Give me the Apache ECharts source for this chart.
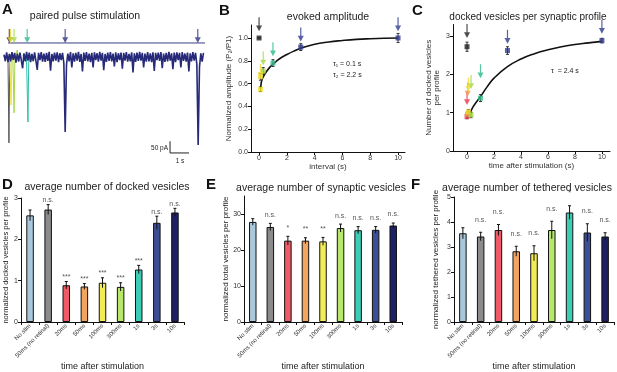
<!DOCTYPE html>
<html>
<head>
<meta charset="utf-8">
<script src="https://cdn.jsdelivr.net/npm/echarts@6.0.0/dist/echarts.min.js"></script>
<style>
  html, body { margin: 0; padding: 0; background: #fff; }
  #main { width: 617px; height: 372px; }
</style>
</head>
<body>
<div id="main"></div>
<script>
// ---------- data ----------
// A: paired pulse recordings (pA), navy trace sampled every 0.07 s
var traceDt = 0.07;
var navyTrace = [
  10, -18, 20, -22, 13, -19, 21, -12, 18, -24,
  14, -20, 19, -13, -48, 16, -19, 22, -15, 19,
  -22, 13, -18, 20, -16, -55, 18, -13, 21, -20,
  15, -21, 18, -16, 22, -58, 13, -19, 19, -15,
  20, -22, 16, -13, 18, -26, -320, -32, 15, -19,
  21, -45, 16, -20, 18, -15, 22, -21, 13, -62,
  19, -16, 21, -19, 15, -22, 18, -44, 20, -13,
  16, -20, 22, -15, 18, -56, 13, -21, 19, -16,
  21, -19, 15, -40, 20, -22, 16, -13, 19, -50,
  18, -15, 21, -20, 13, -19, 20, -66, 16, -21,
  19, -16, 22, -15, 18, -44, 15, -20, 21, -19,
  16, -22, 20, -60, 18, -13, 19, -16, 21, -48,
  15, -21, 18, -19, 22, -15, 16, -52, 19, -22,
  20, -13, 18, -45, 21, -16, 15, -20, 19, -62,
  16, -19, 21, -15, 18, -30, -376, -42, 16, -20,
  18
];
var grayTrace = [[0, 5], [0.07, -12], [0.14, 10], [0.21, -8], [0.26, -367], [0.3, -20], [0.35, 10], [0.42, -12], [0.49, 8]];
var yellowTrace = [[0.1, 6], [0.2, -10], [0.3, 8], [0.37, -205], [0.41, -15], [0.48, 12], [0.55, -10], [0.62, 6]];
var limeTrace = [[0.4, 8], [0.47, -12], [0.53, -239], [0.57, -20], [0.63, 10], [0.7, 30], [0.77, -14], [0.84, -10]];
var tealTrace = [[1.0, 10], [1.1, -14], [1.18, 12], [1.26, -278], [1.3, -25], [1.36, 10], [1.45, -12]];
var stimLine = [[0.21, 60], [10.58, 60]];
var aArrowX = [0.28, 0.34, 0.53, 1.22, 3.22, 10.2];
var scaleBar = [[8.74, -360], [8.74, -410], [9.74, -410]];

// B: evoked amplitude (P2/P1) vs interval (s)
var bCurve = [[0.1, 0.55], [0.15, 0.6], [0.2, 0.63], [0.3, 0.66], [0.5, 0.7], [0.75, 0.74], [1, 0.77],
  [1.5, 0.82], [2, 0.855], [2.5, 0.885], [3, 0.91], [4, 0.945], [5, 0.965], [6, 0.978], [7, 0.988], [8, 0.994], [9, 0.998], [10, 1.0]];
var bPtX = [0, 0.1, 0.1, 0.3, 1, 3, 10];
var bPtY = [1.0, 0.55, 0.66, 0.71, 0.78, 0.92, 1.0];
var bPtErr = [0, 0.02, 0.03, 0.03, 0.03, 0.03, 0.04];
var bArrX = [0, 0.1, 0.3, 1, 3, 10];
var bArrY = [1.06, 0.65, 0.76, 0.84, 0.97, 1.06];
var bXTicks = [0, 2, 4, 6, 8, 10];
var bYTicks = [0, 0.2, 0.4, 0.6, 0.8, 1.0];

// C: docked vesicles per synaptic profile vs time after stimulation (s)
var cCurve = [[0, 0.85], [0.25, 1.02], [0.5, 1.18], [1, 1.42], [1.5, 1.68], [2, 1.9], [3, 2.2], [4, 2.4],
  [5, 2.54], [6, 2.64], [7, 2.72], [8, 2.78], [9, 2.82], [10, 2.86]];
var cPtX = [0, 0, 0.03, 0.1, 0.3, 1, 3, 10];
var cPtY = [2.72, 0.9, 0.96, 1.02, 0.94, 1.38, 2.62, 2.88];
var cPtErr = [0.12, 0.06, 0.06, 0.06, 0.07, 0.09, 0.1, 0.06];
var cArrX = [0, 0, 0.05, 0.1, 0.3, 1, 3, 10];
var cArrY = [2.95, 1.2, 1.42, 1.55, 1.62, 1.9, 2.8, 3.06];
var cXTicks = [0, 2, 4, 6, 8, 10];
var cYTicks = [0, 1, 2, 3];

// D, E, F: bar panels
var timeCats = ['No stim', '50ms (no retinal)', '20ms', '50ms', '100ms', '300ms', '1s', '3s', '10s'];
var dockedMean = [2.58, 2.72, 0.89, 0.86, 0.95, 0.85, 1.27, 2.40, 2.65];
var dockedErr = [0.13, 0.12, 0.09, 0.07, 0.12, 0.10, 0.10, 0.16, 0.10];
var dockedSig = ['', 'n.s.', '***', '***', '***', '***', '***', 'n.s.', 'n.s.'];
var dYTicks = [0, 1, 2, 3];
var totalMean = [27.8, 26.4, 22.6, 22.6, 22.4, 26.1, 25.5, 25.6, 26.8];
var totalErr = [0.9, 1.0, 1.2, 0.8, 1.1, 1.1, 1.0, 0.9, 0.7];
var totalSig = ['', 'n.s.', '*', '**', '**', 'n.s.', 'n.s.', 'n.s.', 'n.s.'];
var eYTicks = [0, 10, 20, 30];
var tetherMean = [3.55, 3.42, 3.68, 2.83, 2.75, 3.68, 4.38, 3.58, 3.42];
var tetherErr = [0.22, 0.17, 0.22, 0.20, 0.30, 0.35, 0.27, 0.35, 0.15];
var tetherSig = ['', 'n.s.', 'n.s.', 'n.s.', 'n.s.', 'n.s.', '*', 'n.s.', 'n.s.'];
var fYTicks = [0, 1, 2, 3, 4, 5];

// ---------- styles ----------
var barColors = ['#a9c8dc', '#8b8b8b', '#ee5a66', '#f2a55e', '#f4ec55', '#b7e86c', '#3ccdb5', '#3c4e95', '#1e2064'];
var aArrowCol = ['#333333', '#ebdc2a', '#a6d842', '#2cb98a', '#2e3382', '#2e3382'];
var bPtCol = ['#222222', '#f1e21f', '#eedc3a', '#a6d842', '#37bb88', '#2e3a8c', '#2e3a8c'];
var bArrCol = ['#222222', '#eedc2a', '#a6d842', '#2cb98a', '#2e3a8c', '#2e3a8c'];
var cPtCol = ['#222222', '#ee4455', '#f29a4a', '#f1e030', '#a6d842', '#37bb88', '#2e3a8c', '#2e3a8c'];
var cArrCol = ['#222222', '#ee3344', '#f29a4a', '#f1e030', '#a6d842', '#2cb98a', '#2e3a8c', '#2e3a8c'];
var FONT = "'Liberation Sans', Arial, sans-serif";
var ARROW = 'path://M4,0L6,0L6,13L10,13L5,22L0,13L4,13Z';

var chart = echarts.init(document.getElementById('main'), null, { renderer: 'canvas' });

function valueAxis(grid, min, max, ticks, extra) {
  var ax = {
    gridIndex: grid, type: 'value', min: min, max: max,
    axisLine: { show: true, onZero: false, lineStyle: { color: '#111', width: 1 } },
    axisTick: { show: true, length: 3, customValues: ticks, lineStyle: { color: '#111' } },
    axisLabel: { customValues: ticks, fontSize: 7, color: '#333', margin: 3, fontFamily: FONT },
    splitLine: { show: false },
    nameLocation: 'middle',
    nameTextStyle: { fontSize: 8, color: '#333', fontFamily: FONT }
  };
  for (var k in extra) ax[k] = extra[k];
  return ax;
}

function catAxis(grid) {
  return {
    gridIndex: grid, type: 'category', data: timeCats,
    axisLine: { show: true, lineStyle: { color: '#111', width: 1 } },
    axisTick: { show: true, length: 3, lineStyle: { color: '#111' } },
    axisLabel: { rotate: 45, interval: 0, fontSize: 6, color: '#333', margin: 3, fontFamily: FONT },
    name: 'time after stimulation', nameLocation: 'middle', nameGap: 23,
    nameTextStyle: { fontSize: 9, color: '#222', fontFamily: FONT }
  };
}

function barSeries(idx, means) {
  return {
    type: 'bar', xAxisIndex: idx, yAxisIndex: idx, barWidth: 7.5,
    data: means.map(function (v, i) {
      return { value: v, itemStyle: { color: barColors[i], borderColor: '#111', borderWidth: 1 } };
    })
  };
}

function errSeries(idx, means, errs, sig, off) {
  return {
    type: 'custom', xAxisIndex: idx, yAxisIndex: idx, z: 5,
    data: means.map(function (v, i) { return [i, v, errs[i]]; }),
    renderItem: function (params, api) {
      var i = api.value(0), m = api.value(1), e = api.value(2);
      var lo = api.coord([i, m - e]), hi = api.coord([i, m + e]);
      return {
        type: 'group', children: [
          { type: 'line', shape: { x1: lo[0], y1: lo[1], x2: hi[0], y2: hi[1] }, style: { stroke: '#111', lineWidth: 1 } },
          { type: 'line', shape: { x1: hi[0] - 1.5, y1: hi[1], x2: hi[0] + 1.5, y2: hi[1] }, style: { stroke: '#111', lineWidth: 1 } },
          { type: 'text', style: { text: sig[params.dataIndex], x: hi[0], y: hi[1] - off, align: 'center', verticalAlign: 'bottom', fontSize: 7, fill: '#555', fontFamily: FONT } }
        ]
      };
    }
  };
}

function ptErrSeries(idx, xs, ys, errs) {
  return {
    type: 'custom', xAxisIndex: idx, yAxisIndex: idx, z: 3,
    data: xs.map(function (x, i) { return [x, ys[i], errs[i]]; }),
    renderItem: function (params, api) {
      var x = api.value(0), m = api.value(1), e = api.value(2);
      var lo = api.coord([x, m - e]), hi = api.coord([x, m + e]);
      return {
        type: 'group', children: [
          { type: 'line', shape: { x1: lo[0], y1: lo[1], x2: hi[0], y2: hi[1] }, style: { stroke: '#333', lineWidth: 1 } },
          { type: 'line', shape: { x1: lo[0] - 1.5, y1: lo[1], x2: lo[0] + 1.5, y2: lo[1] }, style: { stroke: '#333', lineWidth: 1 } },
          { type: 'line', shape: { x1: hi[0] - 1.5, y1: hi[1], x2: hi[0] + 1.5, y2: hi[1] }, style: { stroke: '#333', lineWidth: 1 } }
        ]
      };
    }
  };
}

function pointSeries(idx, xs, ys, cols) {
  return {
    type: 'scatter', xAxisIndex: idx, yAxisIndex: idx, z: 4, symbol: 'rect', symbolSize: 5, clip: false,
    data: xs.map(function (x, i) { return { value: [x, ys[i]], itemStyle: { color: cols[i] } }; })
  };
}

function arrowSeries(idx, xs, ys, cols, h) {
  return {
    type: 'scatter', xAxisIndex: idx, yAxisIndex: idx, z: 6, clip: false,
    symbol: ARROW, symbolSize: [6, h], symbolOffset: [0, -h / 2], symbolKeepAspect: false,
    data: xs.map(function (x, i) { return { value: [x, ys[i]], itemStyle: { color: cols[i] } }; })
  };
}

function curveSeries(idx, pts) {
  return {
    type: 'line', xAxisIndex: idx, yAxisIndex: idx, z: 2, data: pts, smooth: true, symbol: 'none',
    lineStyle: { color: '#111', width: 1.6 }
  };
}

function traceSeries(pts, color, z, w) {
  return {
    type: 'line', xAxisIndex: 0, yAxisIndex: 0, z: z, data: pts, symbol: 'none',
    lineStyle: { color: color, width: w || 1 }, clip: false
  };
}

function txt(x, y, s, size, opts) {
  var st = { text: s, x: x, y: y, fontSize: size, fill: '#222', fontFamily: FONT, align: 'center', verticalAlign: 'middle' };
  for (var k in opts) st[k] = opts[k];
  return { type: 'text', style: st, z: 100 };
}

var navyPts = navyTrace.map(function (v, i) { return [i * traceDt, v]; });

var option = {
  animation: false,
  backgroundColor: '#fff',
  grid: [
    { left: 4, top: 26.6, width: 201, height: 128.7 },
    { left: 251, top: 25, width: 154, height: 127 },
    { left: 453, top: 24.5, width: 157, height: 126.5 },
    { left: 21, top: 198, width: 163, height: 133 },
    { left: 244, top: 196, width: 158, height: 134 },
    { left: 454, top: 197, width: 160, height: 133 }
  ],
  xAxis: [
    { gridIndex: 0, type: 'value', min: 0, max: 10.58, show: false },
    valueAxis(1, -0.58, 10.5, bXTicks, { name: 'interval (s)', nameGap: 9 }),
    valueAxis(2, -1.04, 10.6, cXTicks, { name: 'time after stimulation (s)', nameGap: 9 }),
    catAxis(3), catAxis(4), catAxis(5)
  ],
  yAxis: [
    { gridIndex: 0, type: 'value', min: -420, max: 130, show: false },
    valueAxis(1, 0, 1.114, bYTicks, {
      name: 'Normalized amplitude (P\u2082/P1)', nameGap: 18,
      axisLabel: { customValues: bYTicks, fontSize: 7, color: '#333', margin: 3, fontFamily: FONT, formatter: function (v) { return v.toFixed(1); } }
    }),
    valueAxis(2, 0, 3.3, cYTicks, { name: 'Number of docked vesicles\nper profile', nameGap: 12 }),
    valueAxis(3, 0, 3, dYTicks, { name: 'normalized docked vesicles per profile', nameGap: 11, nameTextStyle: { fontSize: 7.5, color: '#222', fontFamily: FONT } }),
    valueAxis(4, 0, 35, eYTicks, { name: 'normalized total vesicles per profile', nameGap: 13, nameTextStyle: { fontSize: 8, color: '#222', fontFamily: FONT } }),
    valueAxis(5, 0, 5, fYTicks, { name: 'normalized tethered vesicles per profile', nameGap: 14, nameTextStyle: { fontSize: 8, color: '#222', fontFamily: FONT } })
  ],
  series: [
    // A
    traceSeries(grayTrace, '#555555', 2),
    traceSeries(yellowTrace, '#eee33a', 2),
    traceSeries(limeTrace, '#a8d64a', 2),
    traceSeries(tealTrace, '#2fbfa8', 2),
    traceSeries(navyPts, '#262a78', 3, 1.6),
    traceSeries(stimLine, '#3a3f85', 3),
    traceSeries(scaleBar, '#222222', 3),
    arrowSeries(0, aArrowX, aArrowX.map(function () { return 60; }), aArrowCol, 14),
    // B
    curveSeries(1, bCurve),
    ptErrSeries(1, bPtX, bPtY, bPtErr),
    pointSeries(1, bPtX, bPtY, bPtCol),
    arrowSeries(1, bArrX, bArrY, bArrCol, 14),
    // C
    curveSeries(2, cCurve),
    ptErrSeries(2, cPtX, cPtY, cPtErr),
    pointSeries(2, cPtX, cPtY, cPtCol),
    arrowSeries(2, cArrX, cArrY, cArrCol, 14),
    // D E F
    barSeries(3, dockedMean), errSeries(3, dockedMean, dockedErr, dockedSig, 1),
    barSeries(4, totalMean), errSeries(4, totalMean, totalErr, totalSig, 5),
    barSeries(5, tetherMean), errSeries(5, tetherMean, tetherErr, tetherSig, 9)
  ],
  graphic: [
    txt(2, 2, 'A', 15, { fontWeight: 'bold', align: 'left', verticalAlign: 'top', fill: '#111' }),
    txt(219, 3, 'B', 15, { fontWeight: 'bold', align: 'left', verticalAlign: 'top', fill: '#111' }),
    txt(412, 3, 'C', 15, { fontWeight: 'bold', align: 'left', verticalAlign: 'top', fill: '#111' }),
    txt(2, 177, 'D', 15, { fontWeight: 'bold', align: 'left', verticalAlign: 'top', fill: '#111' }),
    txt(206, 177, 'E', 15, { fontWeight: 'bold', align: 'left', verticalAlign: 'top', fill: '#111' }),
    txt(411, 177, 'F', 15, { fontWeight: 'bold', align: 'left', verticalAlign: 'top', fill: '#111' }),
    txt(85, 16, 'paired pulse stimulation', 10.5),
    txt(328, 17, 'evoked amplitude', 10.5),
    txt(528, 17, 'docked vesicles per synaptic profile', 10),
    txt(107, 187, 'average number of docked vesicles', 10.5),
    txt(321, 188, 'average number of synaptic vesicles', 10.5),
    txt(527, 188, 'average number of tethered vesicles', 10.5),
    txt(333, 64, '\u03c4\u2081 = 0.1 s', 7, { align: 'left' }),
    txt(333, 75, '\u03c4\u2082 = 2.2 s', 7, { align: 'left' }),
    txt(551, 71, '\u03c4  = 2.4 s', 7, { align: 'left' }),
    txt(168, 148, '50 pA', 6.5, { align: 'right' }),
    txt(180, 161, '1 s', 6.5)
  ]
};

chart.setOption(option);
</script>
</body>
</html>
